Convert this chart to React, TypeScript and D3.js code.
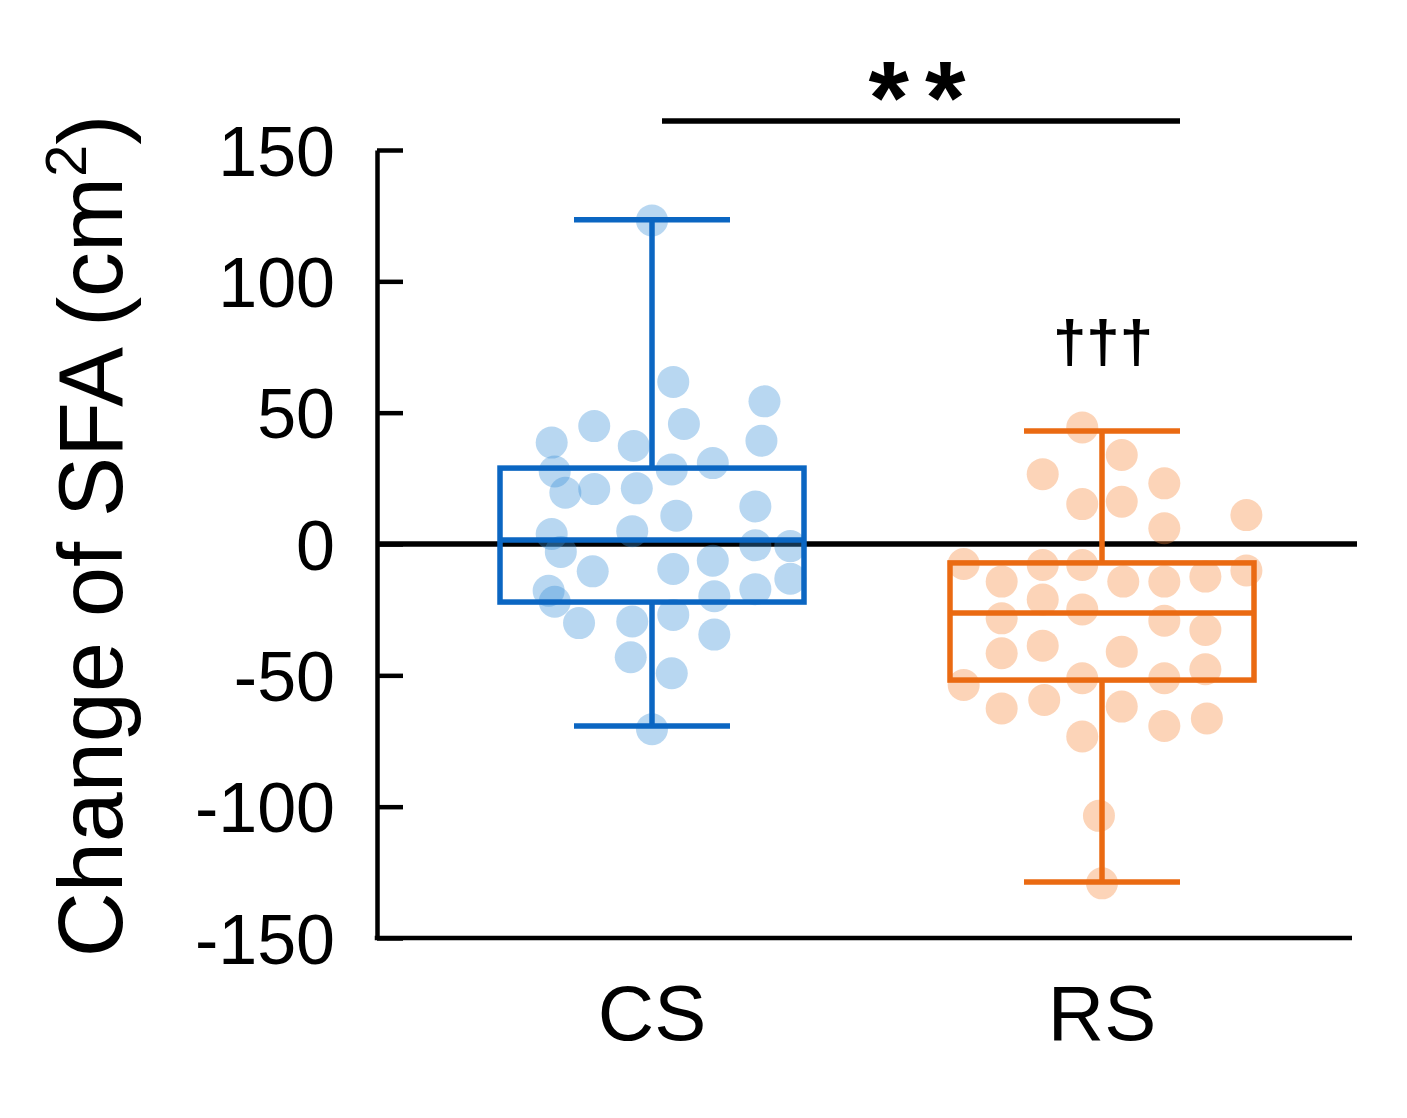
import { useRef, useEffect, useMemo } from 'react';
import * as d3 from 'd3';

const categories = ['CS', 'RS'];
const tickValues = [-150, -100, -50, 0, 50, 100, 150];

// change of SFA per subject (cm2)
const csValues = [
  123.2, 61.7, 54.3, 44.9, 45.7, 38.6, 37.3, 39.3, 27.6, 28.4, 30.8, 19.5, 20.9, 21.2, 10.8, 14.3, 3.8, 4.9,
  -3.0, -0.5, -0.8, -10.4, -9.5, -6.4, -13.2, -17.8, -22.0, -19.9, -17.2, -30.1, -29.5, -27.0, -34.5, -43.1,
  -49.2, -70.5,
];
const rsValues = [
  44.4, 33.9, 26.6, 23.1, 15.2, 16.1, 11.0, 6.0, -7.6, -8.0, -8.0, -14.3, -14.3, -14.3, -12.4, -10.1, -21.1,
  -24.9, -28.3, -29.2, -32.7, -41.6, -38.7, -41.0, -53.7, -51.1, -51.1, -47.7, -62.6, -59.4, -61.9, -69.3,
  -66.4, -73.3, -103.5, -129.2,
];
// horizontal jitter of each dot, relative to box half width
const csJitter = [
  0, 0.14, 0.74, -0.38, 0.21, -0.66, -0.12, 0.72, -0.64, 0.13, 0.4, -0.57, -0.38, -0.1, 0.16, 0.68, -0.66, -0.13,
  -0.6, 0.68, 0.91, -0.39, 0.14, 0.4, 0.91, -0.68, -0.64, 0.41, 0.68, -0.48, -0.13, 0.14, 0.41, -0.14, 0.13, 0,
];
const rsJitter = [
  -0.13, 0.13, -0.39, 0.41, -0.13, 0.13, 0.95, 0.41, -0.91, -0.39, -0.13, -0.66, 0.14, 0.41, 0.68, 0.95, -0.39,
  -0.13, -0.66, 0.41, 0.68, -0.66, -0.39, 0.13, -0.91, -0.13, 0.41, 0.68, -0.66, -0.38, 0.13, 0.41, 0.69, -0.13,
  -0.02, 0,
];

// box plot stats, CS then RS
const whiskerLow = [-69.3, -128.7];
const boxQ1 = [-22.1, -51.8];
const boxMedian = [1.5, -26.3];
const boxQ3 = [28.9, -7.2];
const whiskerHigh = [123.4, 43.0];

const strokeColors = ['#0b66c2', '#ea6a12'];
const dotColors = ['#3a8fd8', '#f7883a'];
const seriesValues = [csValues, rsValues];
const seriesJitter = [csJitter, rsJitter];

const FONT = '"Liberation Sans", Arial, Helvetica, sans-serif';

export default function App() {
  const width = 1407;
  const height = 1118;
  const margin = { top: 150, right: 55, bottom: 180, left: 377 };
  const boxHalf = 152;
  const capHalf = 78;

  const gy = useRef<SVGGElement>(null);

  const y = useMemo(
    () => d3.scaleLinear().domain([-150, 150]).range([height - margin.bottom, margin.top]),
    [],
  );
  const x = useMemo(() => d3.scalePoint<string>().domain(categories).range([652, 1102]), []);
  const jitter = d3.scaleLinear().domain([-1, 1]).range([-boxHalf, boxHalf]);

  useEffect(() => {
    const el = gy.current;
    if (el) {
      const g = d3.select(el);
      g.call(
        d3
          .axisLeft(y)
          .tickValues(tickValues)
          .tickSizeInner(-26)
          .tickSizeOuter(0)
          .tickPadding(42)
          .tickFormat((d) => `${d}`),
      );
      g.select('.domain').attr('stroke-width', 4.5).attr('stroke', '#000');
      g.selectAll('.tick line').attr('stroke-width', 4.5).attr('stroke', '#000');
      g.selectAll('.tick text')
        .attr('font-size', 70)
        .attr('font-family', FONT)
        .attr('fill', '#000')
        .attr('dy', '0.36em');
    }
    return () => {
      d3.select(el).selectAll('*').remove();
    };
  }, [y]);

  const x0 = margin.left;
  const x1 = width - margin.right;

  return (
    <svg width={width} height={height} style={{ position: 'absolute', left: 0, top: 0, background: '#fff' }}>
      {/* zero reference line */}
      <line x1={x0} x2={x1 + 5} y1={y(0)} y2={y(0)} stroke="#000" strokeWidth={5.5} />

      {categories.map((c, i) => (
        <g key={c}>
          {seriesValues[i].map((v, j) => (
            <circle
              key={j}
              cx={x(c)! + jitter(seriesJitter[i][j])}
              cy={y(v)}
              r={16}
              fill={dotColors[i]}
              fillOpacity={0.36}
            />
          ))}
        </g>
      ))}

      {categories.map((c, i) => {
        const cx = x(c)!;
        const col = strokeColors[i];
        return (
          <g key={c} stroke={col} strokeWidth={5.5} fill="none">
            <line x1={cx} x2={cx} y1={y(whiskerHigh[i])} y2={y(boxQ3[i])} />
            <line x1={cx} x2={cx} y1={y(boxQ1[i])} y2={y(whiskerLow[i])} />
            <line x1={cx - capHalf} x2={cx + capHalf} y1={y(whiskerHigh[i])} y2={y(whiskerHigh[i])} />
            <line x1={cx - capHalf} x2={cx + capHalf} y1={y(whiskerLow[i])} y2={y(whiskerLow[i])} />
            <rect
              x={cx - boxHalf}
              y={y(boxQ3[i])}
              width={boxHalf * 2}
              height={y(boxQ1[i]) - y(boxQ3[i])}
            />
            <line x1={cx - boxHalf} x2={cx + boxHalf} y1={y(boxMedian[i])} y2={y(boxMedian[i])} />
          </g>
        );
      })}

      {/* axes */}
      <g ref={gy} transform={`translate(${x0},0)`} />
      <line x1={x0 - 2.25} x2={x1} y1={y(-150)} y2={y(-150)} stroke="#000" strokeWidth={4.5} />
      {categories.map((c) => (
        <text key={c} x={x(c)} y={1040} textAnchor="middle" fontSize={78} fontFamily={FONT}>
          {c}
        </text>
      ))}
      <text
        transform={`translate(122, ${(margin.top + height - margin.bottom) / 2 - 8}) rotate(-90)`}
        textAnchor="middle"
        fontSize={90}
        fontFamily={FONT}
      >
        Change of SFA (cm
        <tspan fontSize={58} dy={-36}>
          2
        </tspan>
        <tspan dy={36}>)</tspan>
      </text>

      {/* significance */}
      <line x1={662} x2={1180} y1={121} y2={121} stroke="#000" strokeWidth={5.5} />
      <text
        x={925}
        y={134}
        textAnchor="middle"
        fontSize={104}
        fontWeight="bold"
        fontFamily={FONT}
        letterSpacing={16}
      >
        **
      </text>
      <text x={1103} y={362} textAnchor="middle" fontSize={60} fontWeight="bold" fontFamily={FONT}>
        †††
      </text>
    </svg>
  );
}
